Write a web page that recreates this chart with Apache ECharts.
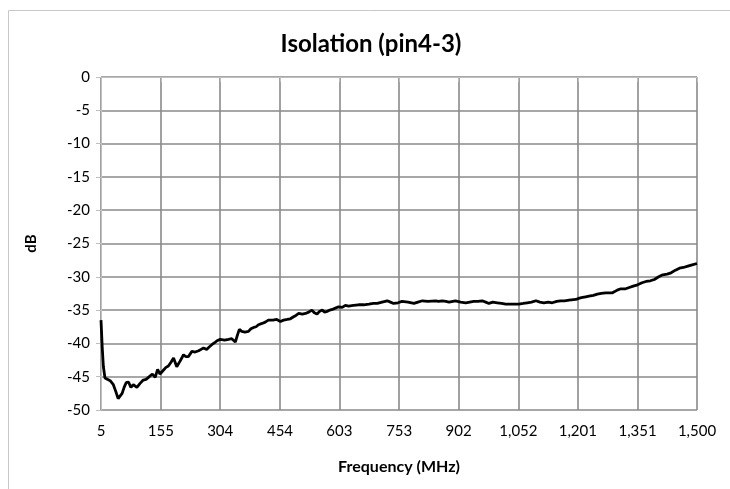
<!DOCTYPE html>
<html>
<head>
<meta charset="utf-8">
<script src="https://cdn.jsdelivr.net/npm/echarts@6/dist/echarts.min.js"></script>
<style>
html,body{margin:0;padding:0;background:#fff;}
#chart{width:730px;height:489px;}
</style>
</head>
<body>
<div id="chart"></div>
<script>
var freqMHz = [5,8,11,15,20,28,36,42,48,53,58,63,68,74,80,86,90,95,103,111,118,124,134,141,147,153,162,168,174,181,187,195,203,212,218,224,233,241,250,256,262,270,277,283,290,296,304,315,325,333,342,347,352,358,366,375,381,388,394,400,409,417,425,436,446,455,463,472,480,488,494,501,510,518,526,534,540,547,553,560,566,572,579,585,593,601,610,618,626,638,651,664,677,688,698,710,723,731,739,750,760,775,790,800,811,825,844,852,857,861,870,878,894,907,920,930,940,950,961,970,978,988,999,1010,1020,1035,1053,1064,1074,1085,1096,1106,1116,1127,1137,1148,1158,1168,1179,1196,1205,1213,1221,1229,1240,1250,1260,1271,1288,1300,1309,1313,1321,1330,1340,1351,1362,1372,1383,1393,1404,1414,1425,1435,1446,1456,1466,1477,1488,1500];
var isolationDb = [-36.5,-40.5,-43.5,-45.2,-45.5,-45.6,-46.2,-47.2,-48.3,-48.0,-47.5,-46.6,-45.9,-45.8,-46.6,-46.2,-46.3,-46.6,-46.0,-45.5,-45.4,-45.1,-44.6,-45.1,-43.9,-44.6,-44.0,-43.6,-43.4,-42.8,-42.2,-43.5,-42.7,-41.7,-42.0,-42.0,-41.2,-41.3,-41.1,-40.9,-40.7,-40.9,-40.5,-40.2,-39.9,-39.6,-39.4,-39.5,-39.4,-39.3,-39.8,-38.8,-37.9,-38.2,-38.3,-38.2,-37.8,-37.6,-37.5,-37.2,-37.0,-36.8,-36.5,-36.5,-36.4,-36.7,-36.5,-36.4,-36.3,-36.0,-35.8,-35.5,-35.6,-35.5,-35.3,-35.0,-35.4,-35.6,-35.2,-35.0,-35.3,-35.2,-35.0,-34.9,-34.7,-34.5,-34.6,-34.3,-34.4,-34.3,-34.2,-34.2,-34.1,-34.0,-34.0,-33.8,-33.6,-33.8,-34.0,-33.9,-33.7,-33.8,-34.0,-33.8,-33.6,-33.7,-33.6,-33.7,-34.0,-33.6,-33.7,-33.8,-33.6,-33.8,-33.9,-33.8,-33.7,-33.7,-33.6,-33.8,-34.0,-33.8,-33.9,-34.0,-34.1,-34.1,-34.1,-34.0,-33.9,-33.8,-33.6,-33.8,-33.9,-33.8,-33.9,-33.7,-33.6,-33.6,-33.5,-33.4,-33.2,-33.1,-33.0,-32.9,-32.8,-32.6,-32.5,-32.4,-32.4,-32.0,-31.8,-32.1,-31.8,-31.6,-31.4,-31.2,-30.9,-30.7,-30.6,-30.4,-30.0,-29.7,-29.6,-29.4,-29.0,-28.7,-28.6,-28.4,-28.2,-28.0];
var xTickLabels = [5,155,304,454,603,753,902,1052,1201,1351,1500];
var yTickLabels = [0,-5,-10,-15,-20,-25,-30,-35,-40,-45,-50];

var FONT = 'Lato';
var pairs = freqMHz.map(function(f, i){ return [f, isolationDb[i]]; });

var chart = echarts.init(document.getElementById('chart'), null, {renderer:'canvas'});
chart.setOption({
  animation: false,
  backgroundColor: '#fff',
  title: {
    text: 'Isolation (pin4-3)',
    left: 366, top: 27, textAlign: 'center',
    textStyle: {fontFamily: FONT, fontWeight: 'bold', fontSize: 24, color: '#000'}
  },
  graphic: [{
    type: 'rect', silent: true,
    shape: {x: 8.5, y: 10.5, width: 800, height: 600},
    style: {fill: 'none', stroke: '#c8c8c8', lineWidth: 1}
  }],
  grid: {left: 101, right: 33, top: 77, bottom: 79, containLabel: false},
  xAxis: {
    type: 'value', min: 5, max: 1500,
    name: 'Frequency (MHz)', nameLocation: 'middle', nameGap: 49,
    nameTextStyle: {fontFamily: FONT, fontWeight: 'bold', fontSize: 16, color: '#000'},
    axisLine: {show: true, lineStyle: {color: '#bfbfbf', width: 1}},
    axisTick: {show: true, length: 5, customValues: xTickLabels, lineStyle: {color: '#bfbfbf'}},
    axisLabel: {customValues: xTickLabels, margin: 14, fontFamily: FONT, fontSize: 15, color: '#000',
      formatter: function(v){ return Math.round(v).toLocaleString('en-US'); }},
    splitLine: {show: true, lineStyle: {color: '#8a8a8a', width: 1.6}}
  },
  yAxis: {
    type: 'value', min: -50, max: 0, interval: 5,
    name: 'dB', nameLocation: 'middle', nameGap: 62, nameRotate: 90,
    nameTextStyle: {fontFamily: FONT, fontWeight: 'bold', fontSize: 15, color: '#000'},
    axisLine: {show: true, lineStyle: {color: '#bfbfbf', width: 1}},
    axisTick: {show: true, length: 5, lineStyle: {color: '#bfbfbf'}},
    axisLabel: {margin: 11, fontFamily: FONT, fontSize: 15, color: '#000'},
    splitLine: {show: true, lineStyle: {color: '#8a8a8a', width: 1.6}}
  },
  series: [{
    type: 'line', data: pairs, showSymbol: false, symbol: 'none',
    lineStyle: {color: '#000', width: 2.8}, z: 5
  }]
});
</script>
</body>
</html>
